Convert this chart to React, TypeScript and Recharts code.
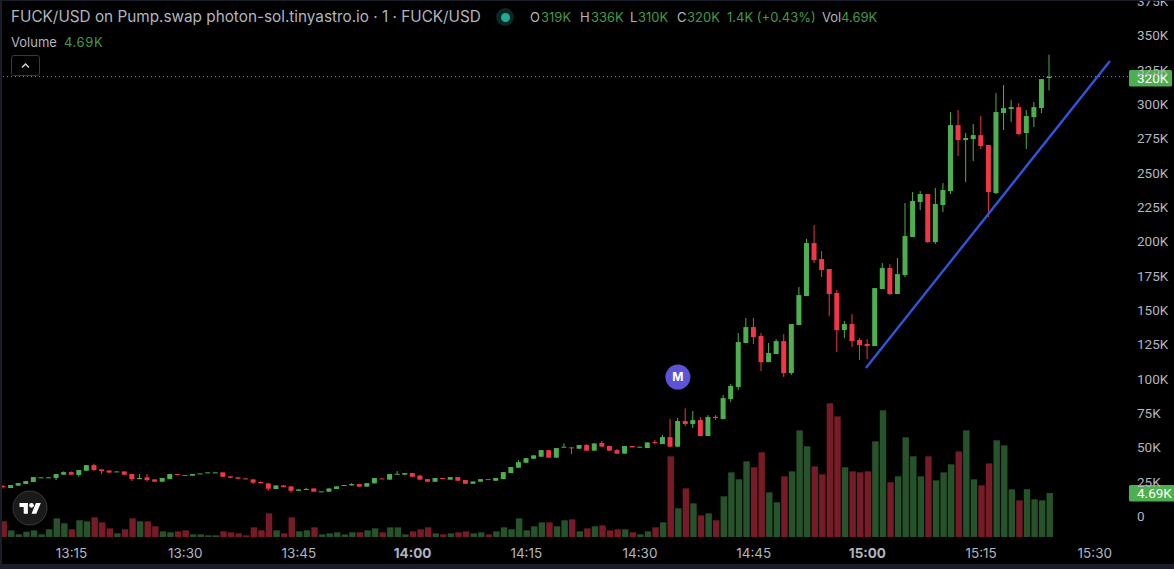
import {
  ComposedChart,
  Bar,
  Cell,
  XAxis,
  YAxis,
  ReferenceLine,
  ReferenceDot,
} from "recharts";

const FONT = "Inter, Roboto, sans-serif";
const NUM_FONT = "Roboto, Inter, sans-serif";
const UP = "#4caf50";
const DOWN = "#f23645";
const UP_VOL = "#27532b";
const DOWN_VOL = "#771c26";
const TEXT = "#b2b5be";

// first candle is 13:06, one candle per minute (minutes since midnight)
const FIRST_MINUTE = 786;

// prices in K
const opens = [
  21.8, 20.4, 22.1, 23.3, 24.8, 27.9, 27.9, 27.7, 30.1, 32,
  29.9, 33, 37.1, 34, 33.2, 32.3, 32.5, 30.6, 26.9, 28.2,
  26.7, 25, 26.9, 30.6, 29.9, 29.4, 30.8, 31.6, 31.6, 31.8,
  28.9, 28.2, 27.4, 26.7, 24.8, 23.8, 19.7, 22.3, 21.6, 18.4,
  19.4, 20.1, 17.7, 17.7, 19.7, 22.3, 22.3, 23.3, 21.4, 23.8,
  27.4, 26.5, 30.6, 30.1, 31.3, 29.4, 26.9, 25, 27.7, 26.5,
  28.4, 26.2, 23.5, 25, 26.9, 25.7, 26.9, 31.3, 35.2, 38.8,
  41.7, 43.2, 48, 42.5, 50.2, 50, 49, 51.7, 47.6, 53.2,
  51, 48, 45.4, 51, 50.2, 49.5, 53.9, 52.4, 57.5, 50.5,
  69.2, 67, 69.9, 58.3, 72.3, 70.6, 85.2, 93.9, 126, 137.6,
  131.1, 112.1, 118, 127.4, 104.1, 139.1, 160.2, 198.8, 187.1, 179.9,
  162.4, 135.4, 139.8, 128.2, 125.3, 123.8, 165.3, 180.6, 161.7, 175.5,
  203.2, 228.7, 234.5, 199.5, 226.5, 236.7, 284.7, 273.8, 274.5, 277.4,
  270.2, 235.2, 293.5, 296.4, 297.8, 278.9, 290.5, 297.1, 319,
];
const highs = [
  22.6, 22.6, 24, 25.5, 28.4, 28.2, 28.2, 30.6, 32.5, 32.5,
  33.5, 37.1, 38.1, 34, 33.2, 32.5, 32.5, 30.6, 30.6, 30.6,
  26.7, 27.7, 30.6, 30.6, 29.9, 30.6, 31, 31.8, 31.8, 31.8,
  28.9, 28.2, 27.4, 26.7, 25.2, 23.8, 22.3, 22.3, 21.6, 19.4,
  20.6, 20.1, 18, 20.1, 21.6, 22.6, 24, 23.3, 24, 27.7,
  27.4, 30.6, 32.8, 31.3, 31.3, 30.1, 26.9, 27.7, 27.7, 28.4,
  28.4, 26.2, 25.2, 26.9, 26.9, 27.7, 32, 35.7, 40.8, 42.2,
  44.2, 48, 48, 49.5, 52.9, 50, 51.7, 52.4, 52.9, 54.6,
  51, 48.8, 51, 51, 50.5, 53.6, 55.3, 59, 70.6, 71.4,
  78.4, 76.5, 72.1, 73.5, 73.5, 88.1, 96.1, 133.3, 144.2, 144.2,
  133.3, 126, 128.9, 132.5, 139.8, 166.8, 201.7, 211.9, 193, 179.9,
  164.6, 142, 147.1, 129.6, 128.9, 166, 184.2, 183.5, 187.9, 227.9,
  235.9, 236.7, 234.5, 238.9, 242.5, 294.2, 295.7, 278.9, 285.5, 291.3,
  270.2, 308, 313.9, 302.9, 300.7, 295.7, 301.5, 318.2, 336,
];
const lows = [
  20.1, 20.4, 22.1, 23.3, 24.8, 27.9, 27.9, 26.2, 30.1, 30.1,
  28.6, 33, 32.8, 30.6, 31.6, 32.3, 30.1, 25.5, 26.9, 25,
  25, 25, 26.9, 29.4, 29.6, 29.4, 30.8, 31.6, 31.6, 28.6,
  27.9, 27.2, 26.9, 23.3, 23.8, 18.4, 19.7, 21.1, 17, 18.4,
  19.4, 17.7, 17.7, 17.7, 19.7, 22.3, 22.3, 21.4, 21.4, 23.8,
  27.2, 26.5, 30.6, 30.1, 28.6, 26.5, 25, 25, 27.2, 26.5,
  25.7, 23.5, 23.5, 25, 26.5, 25.7, 26.9, 31.3, 35.2, 38.8,
  41.7, 43.2, 42.5, 42.5, 50.2, 45.1, 49, 47.6, 47.6, 50.5,
  47.6, 45.4, 45.4, 50, 50.2, 49.5, 52.2, 52.4, 50.2, 50.5,
  65.5, 64.1, 58.3, 58.3, 69.9, 70.6, 83, 91.8, 126, 125.3,
  105.6, 112.1, 118, 101.2, 102.7, 139.1, 160.2, 184.2, 174, 145.6,
  119.4, 129.6, 123.1, 113.6, 114.3, 123.8, 165.3, 160.9, 161.7, 174,
  203.2, 222.8, 198.8, 198.1, 221.4, 234.5, 262.2, 243.2, 258.5, 267.2,
  217.7, 234.5, 281.1, 286.9, 277.4, 267.2, 283.3, 293.5, 310,
];
const closes = [
  21.4, 22.6, 24, 25.5, 28.4, 28.2, 28.2, 30.6, 32, 30.1,
  33.5, 37.1, 33.5, 32.8, 31.6, 32.5, 30.1, 26.9, 27.7, 26.2,
  25, 27.7, 30.6, 30.1, 29.6, 30.6, 31, 31.8, 31.8, 28.6,
  27.9, 27.2, 26.9, 24.3, 23.8, 19.9, 22.3, 21.1, 18.4, 19.4,
  19.7, 17.7, 18, 20.1, 21.6, 22.6, 23.3, 21.4, 24, 27.7,
  27.2, 30.6, 30.8, 31.3, 28.6, 26.5, 25, 27.7, 27.2, 28.4,
  25.7, 23.5, 25.2, 26.9, 26.5, 27.7, 32, 35.7, 39.3, 42.2,
  44.2, 48, 42.5, 49.5, 50.5, 49.5, 51.7, 47.6, 52.9, 50.5,
  47.6, 45.4, 51, 50, 50.5, 53.6, 53.2, 57.5, 50.5, 69.2,
  67, 69.9, 58.3, 72.1, 71.4, 85.9, 94.7, 126.7, 137.6, 130.3,
  112.1, 118.7, 127.4, 104.1, 139.8, 160.9, 198.8, 186.4, 179.1, 161.7,
  135.4, 139.8, 127.4, 124.5, 123.8, 166, 180.6, 161.7, 176.2, 203.9,
  229.4, 234.5, 199.5, 227.2, 237.4, 284.7, 273.8, 275.3, 277.4, 269.4,
  235.9, 294.2, 297.1, 297.8, 278.2, 291.3, 297.8, 318.2, 320,
];
// volume in K
const volumes = [
  1.67, 0.71, 0.28, 0.57, 0.71, 0.28, 0.82, 1.99, 1.46, 0.82,
  1.78, 1.67, 2.1, 1.56, 0.92, 0.39, 0.82, 1.99, 1.67, 1.67,
  1.14, 0.6, 0.5, 0.6, 0.71, 0.28, 0.28, 0.18, 0.18, 0.6,
  0.5, 0.39, 0.18, 1.03, 0.71, 2.52, 0.71, 0.39, 2.1, 0.6,
  0.71, 1.03, 0.28, 0.39, 0.5, 0.28, 0.5, 0.5, 0.71, 0.92,
  0.5, 1.03, 1.03, 0.28, 0.6, 0.82, 1.03, 0.39, 0.28, 0.39,
  0.5, 0.6, 0.39, 0.5, 0.28, 0.6, 1.03, 0.82, 1.99, 0.71,
  1.14, 1.56, 1.56, 1.14, 1.78, 1.88, 0.6, 0.92, 1.14, 1.24,
  0.71, 0.82, 0.82, 0.5, 0.28, 0.6, 1.03, 1.56, 8.6, 3.06,
  5.19, 3.59, 2.31, 2.52, 1.78, 4.34, 6.89, 6.15, 8.07, 7.43,
  9.03, 4.76, 3.7, 6.47, 7, 11.37, 9.67, 7.53, 6.68, 14.25,
  12.86, 7.43, 7, 6.89, 7, 10.2, 13.5, 5.83, 6.47, 10.63,
  8.6, 6.47, 8.6, 6.04, 6.89, 7.75, 9.13, 11.37, 6.15, 5.51,
  7.85, 10.31, 9.77, 5.08, 3.91, 5.08, 4.02, 3.91, 4.69,
];

const priceTicks = [0, 25, 50, 75, 100, 125, 150, 175, 200, 225, 250, 275, 300, 325, 350, 375];
const timeTicks = [795, 810, 825, 840, 855, 870, 885, 900, 915, 930];
const boldTimes = [840, 900];

const legendValues = [
  { key: "O", value: "319K", keyX: 530, valueX: 541 },
  { key: "H", value: "336K", keyX: 580, valueX: 591 },
  { key: "L", value: "310K", keyX: 630, valueX: 638 },
  { key: "C", value: "320K", keyX: 677, valueX: 687 },
  { key: "", value: "1.4K (+0.43%)", keyX: 727, valueX: 727 },
  { key: "Vol", value: "4.69K", keyX: 822, valueX: 841 },
];

const rows = closes.map((c, i) => ({
  minute: FIRST_MINUTE + i,
  open: opens[i],
  close: c,
  high: highs[i],
  low: lows[i],
  range: [lows[i], highs[i]],
  volume: volumes[i],
}));

const fmtTime = (m: number) => {
  const h = Math.floor(m / 60);
  const mm = m % 60;
  return `${h}:${mm < 10 ? "0" : ""}${mm}`;
};

// wick spans the bar's whole height, body placed by share of the high-low range
function Candle(props: any) {
  const { x, y, width, height, payload } = props;
  if (!payload) return null;
  const { open, close, high, low } = payload;
  const color = close >= open ? UP : DOWN;
  const span = high - low || 1;
  const top = y + ((high - Math.max(open, close)) / span) * height;
  const bottom = y + ((high - Math.min(open, close)) / span) * height;
  const cx = x + width / 2;
  return (
    <g>
      <line x1={cx} x2={cx} y1={y} y2={y + height} stroke={color} strokeWidth={1} />
      <rect x={x} y={top} width={width} height={Math.max(bottom - top, 1)} fill={color} />
    </g>
  );
}

function TimeTick(props: any) {
  const { x, y, payload } = props;
  const bold = boldTimes.includes(payload.value);
  return (
    <text
      x={x}
      y={y}
      dy={8}
      textAnchor="middle"
      fill={TEXT}
      fontSize={13.5}
      fontFamily={FONT}
      fontWeight={bold ? 700 : 400}
    >
      {fmtTime(payload.value)}
    </text>
  );
}

function PriceTag(props: any) {
  const { viewBox, text, tagWidth, up } = props;
  const left = viewBox.x + viewBox.width + 1;
  const top = viewBox.y - up;
  return (
    <g>
      <rect x={left} y={top} width={tagWidth} height={16.5} rx={1.5} fill={UP} />
      <text x={left + 8} y={top + 13} fill="#fff" fontSize={13.5} fontFamily={NUM_FONT}>
        {text}
      </text>
    </g>
  );
}

function Header() {
  const base: any = { position: "absolute", whiteSpace: "nowrap", fontFamily: FONT };
  return (
    <>
      <div style={{ ...base, left: 11, top: 8, fontSize: 15.3, lineHeight: "18px", color: TEXT }}>
        FUCK/USD on Pump.swap photon-sol.tinyastro.io · 1 · FUCK/USD
      </div>
      <div style={{ ...base, left: 496, top: 8, width: 18, height: 18, borderRadius: 9, background: "#0c2623" }} />
      <div style={{ ...base, left: 500.5, top: 12.5, width: 9, height: 9, borderRadius: 5, background: "#22ab94" }} />
      {legendValues.map((l) => (
        <span key={l.keyX}>
          <span style={{ ...base, left: l.keyX, top: 9, fontSize: 13, lineHeight: "16px", color: TEXT }}>{l.key}</span>
          <span style={{ ...base, left: l.valueX, top: 9, fontSize: 13, lineHeight: "16px", color: "#439a48" }}>{l.value}</span>
        </span>
      ))}
      <div style={{ ...base, left: 11, top: 34, fontSize: 13, lineHeight: "16px", color: TEXT }}>Volume</div>
      <div style={{ ...base, left: 64, top: 34, fontSize: 13, lineHeight: "16px", letterSpacing: 0.6, color: "#439a48" }}>4.69K</div>
      <div
        style={{
          position: "absolute",
          left: 11,
          top: 55,
          width: 27,
          height: 19,
          border: "1px solid #363a45",
          borderRadius: 3,
        }}
      >
        <svg width={27} height={19} style={{ display: "block" }}>
          <path d="M10 11.5 L13.5 8 L17 11.5" fill="none" stroke="#d1d4dc" strokeWidth={1.5} />
        </svg>
      </div>
    </>
  );
}

function Logo() {
  return (
    <svg width={36} height={36} style={{ position: "absolute", left: 12, top: 490 }}>
      <circle cx={18} cy={18} r={17} fill="#1a1a1a" stroke="#3a3a3a" strokeWidth={1} />
      <g transform="translate(7.5 10.5) scale(0.6)">
        <path d="M14 22H7V11H0V4h14v18zM28 22h-8l7.5-18h8L28 22z" fill="#fff" />
        <circle cx={20} cy={8} r={4} fill="#fff" />
      </g>
    </svg>
  );
}

export default function App() {
  return (
    <div
      style={{
        position: "absolute",
        left: 0,
        top: 0,
        width: 1174,
        height: 569,
        background: "#000",
        overflow: "hidden",
      }}
    >
      <ComposedChart
        width={1174}
        height={569}
        data={rows}
        margin={{ top: 0, right: 0, bottom: 0, left: 0 }}
      >
        <XAxis
          xAxisId="time"
          dataKey="minute"
          type="number"
          domain={[785.565, 934.38]}
          ticks={timeTicks}
          interval={0}
          height={27}
          axisLine={false}
          tickLine={false}
          tick={<TimeTick />}
        />
        <XAxis xAxisId="vol" dataKey="minute" type="number" domain={[785.565, 934.38]} hide />
        <YAxis
          yAxisId="price"
          orientation="right"
          domain={[-18.9, 375.8]}
          ticks={priceTicks}
          interval={0}
          width={46}
          axisLine={false}
          tickLine={false}
          tickMargin={3}
          tick={{ fill: TEXT, fontSize: 13.5, fontFamily: NUM_FONT }}
          tickFormatter={(v: number) => (v === 0 ? "0" : `${v}K`)}
        />
        <YAxis yAxisId="volume" domain={[-0.533, 57.25]} hide />

        <ReferenceLine
          xAxisId="time"
          yAxisId="price"
          y={320}
          stroke="#8a8d94"
          strokeDasharray="1 3"
          label={<PriceTag text="320K" tagWidth={43} up={6.6} />}
        />
        <ReferenceLine
          xAxisId="time"
          yAxisId="volume"
          y={4.69}
          stroke="none"
          label={<PriceTag text="4.69K" tagWidth={46} up={8} />}
        />

        <Bar
          xAxisId="vol"
          yAxisId="volume"
          dataKey="volume"
          barSize={6.4}
          isAnimationActive={false}
        >
          {rows.map((r) => (
            <Cell key={r.minute} fill={r.close >= r.open ? UP_VOL : DOWN_VOL} />
          ))}
        </Bar>
        <Bar
          xAxisId="time"
          yAxisId="price"
          dataKey="range"
          barSize={5}
          shape={<Candle />}
          isAnimationActive={false}
        />

        <ReferenceLine
          xAxisId="time"
          yAxisId="price"
          segment={[
            { x: 899.8, y: 107.8 },
            { x: 932, y: 331.3 },
          ]}
          stroke="#2f55d8"
          strokeWidth={2.4}
        />
        <ReferenceDot
          xAxisId="time"
          yAxisId="price"
          x={875}
          y={101.2}
          r={12.5}
          fill="#5b55d6"
          stroke="none"
          label={{ value: "M", position: "center", fill: "#fff", fontSize: 12, fontWeight: 700, fontFamily: FONT }}
        />
      </ComposedChart>
      <Header />
      <Logo />
      {/* panel frame */}
      <div style={{ position: "absolute", left: 0, top: 0, width: 2, height: 569, background: "#1a1e2a" }} />
      <div style={{ position: "absolute", left: 0, top: 0, width: 1174, height: 1, background: "#1a1e2a" }} />
      <div style={{ position: "absolute", left: 0, top: 563.5, width: 1174, height: 6, background: "#1a1e2a" }} />
    </div>
  );
}
